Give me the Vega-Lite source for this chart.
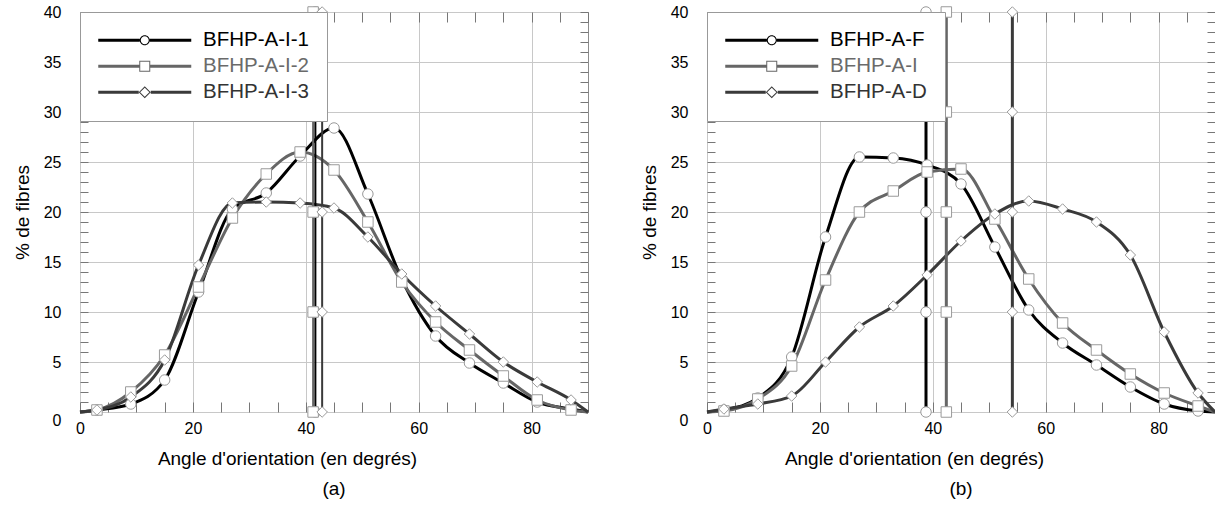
{
  "$schema": "https://vega.github.io/schema/vega-lite/v6.json",
  "padding": {"left": 12, "top": 3, "right": 0, "bottom": 0},
  "spacing": 44,
  "config": {
    "font": "Liberation Sans",
    "view": {"stroke": "#8c8c8c", "strokeWidth": 1},
    "axis": {"labelFont": "Liberation Sans", "titleFont": "Liberation Sans", "labelColor": "#000", "titleColor": "#000", "titleFontWeight": "normal", "labelFontSize": 16, "titleFontSize": 19, "tickColor": "#777", "gridColor": "#c8c8c8", "domain": false, "labelFlush": false, "labelOverlap": false},
    "legend": {"labelFont": "Liberation Sans"},
    "title": {"font": "Liberation Sans", "fontWeight": "normal", "fontSize": 19, "color": "#000"}
  },
  "data": {"values": [
    {"p":"a","s":"BFHP-A-I-1","m":"1","k":"e","x":0,"y":0},
    {"p":"a","s":"BFHP-A-I-1","m":"1","k":"c","x":3,"y":0.2},
    {"p":"a","s":"BFHP-A-I-1","m":"1","k":"c","x":9,"y":0.8},
    {"p":"a","s":"BFHP-A-I-1","m":"1","k":"c","x":15,"y":3.2},
    {"p":"a","s":"BFHP-A-I-1","m":"1","k":"c","x":21,"y":12.0},
    {"p":"a","s":"BFHP-A-I-1","m":"1","k":"c","x":27,"y":20.3},
    {"p":"a","s":"BFHP-A-I-1","m":"1","k":"c","x":33,"y":21.9},
    {"p":"a","s":"BFHP-A-I-1","m":"1","k":"c","x":39,"y":25.6},
    {"p":"a","s":"BFHP-A-I-1","m":"1","k":"c","x":45,"y":28.4},
    {"p":"a","s":"BFHP-A-I-1","m":"1","k":"c","x":51,"y":21.8},
    {"p":"a","s":"BFHP-A-I-1","m":"1","k":"c","x":57,"y":13.3},
    {"p":"a","s":"BFHP-A-I-1","m":"1","k":"c","x":63,"y":7.6},
    {"p":"a","s":"BFHP-A-I-1","m":"1","k":"c","x":69,"y":4.9},
    {"p":"a","s":"BFHP-A-I-1","m":"1","k":"c","x":75,"y":2.9},
    {"p":"a","s":"BFHP-A-I-1","m":"1","k":"c","x":81,"y":1.0},
    {"p":"a","s":"BFHP-A-I-1","m":"1","k":"c","x":87,"y":0.3},
    {"p":"a","s":"BFHP-A-I-1","m":"1","k":"e","x":90,"y":0},
    {"p":"a","s":"BFHP-A-I-1","m":"1","k":"m","x":41.7,"y":0},
    {"p":"a","s":"BFHP-A-I-1","m":"1","k":"m","x":41.7,"y":10},
    {"p":"a","s":"BFHP-A-I-1","m":"1","k":"m","x":41.7,"y":20},
    {"p":"a","s":"BFHP-A-I-1","m":"1","k":"m","x":41.7,"y":30},
    {"p":"a","s":"BFHP-A-I-1","m":"1","k":"m","x":41.7,"y":40},
    {"p":"a","s":"BFHP-A-I-2","m":"2","k":"e","x":0,"y":0},
    {"p":"a","s":"BFHP-A-I-2","m":"2","k":"c","x":3,"y":0.2},
    {"p":"a","s":"BFHP-A-I-2","m":"2","k":"c","x":9,"y":2.0},
    {"p":"a","s":"BFHP-A-I-2","m":"2","k":"c","x":15,"y":5.7},
    {"p":"a","s":"BFHP-A-I-2","m":"2","k":"c","x":21,"y":12.5},
    {"p":"a","s":"BFHP-A-I-2","m":"2","k":"c","x":27,"y":19.4},
    {"p":"a","s":"BFHP-A-I-2","m":"2","k":"c","x":33,"y":23.8},
    {"p":"a","s":"BFHP-A-I-2","m":"2","k":"c","x":39,"y":26.0},
    {"p":"a","s":"BFHP-A-I-2","m":"2","k":"c","x":45,"y":24.2},
    {"p":"a","s":"BFHP-A-I-2","m":"2","k":"c","x":51,"y":19.0},
    {"p":"a","s":"BFHP-A-I-2","m":"2","k":"c","x":57,"y":13.0},
    {"p":"a","s":"BFHP-A-I-2","m":"2","k":"c","x":63,"y":9.0},
    {"p":"a","s":"BFHP-A-I-2","m":"2","k":"c","x":69,"y":6.2},
    {"p":"a","s":"BFHP-A-I-2","m":"2","k":"c","x":75,"y":3.6},
    {"p":"a","s":"BFHP-A-I-2","m":"2","k":"c","x":81,"y":1.2},
    {"p":"a","s":"BFHP-A-I-2","m":"2","k":"c","x":87,"y":0.2},
    {"p":"a","s":"BFHP-A-I-2","m":"2","k":"e","x":90,"y":0},
    {"p":"a","s":"BFHP-A-I-2","m":"2","k":"m","x":41.3,"y":0},
    {"p":"a","s":"BFHP-A-I-2","m":"2","k":"m","x":41.3,"y":10},
    {"p":"a","s":"BFHP-A-I-2","m":"2","k":"m","x":41.3,"y":20},
    {"p":"a","s":"BFHP-A-I-2","m":"2","k":"m","x":41.3,"y":30},
    {"p":"a","s":"BFHP-A-I-2","m":"2","k":"m","x":41.3,"y":40},
    {"p":"a","s":"BFHP-A-I-3","m":"3","k":"e","x":0,"y":0},
    {"p":"a","s":"BFHP-A-I-3","m":"3","k":"c","x":3,"y":0.2},
    {"p":"a","s":"BFHP-A-I-3","m":"3","k":"c","x":9,"y":1.5},
    {"p":"a","s":"BFHP-A-I-3","m":"3","k":"c","x":15,"y":5.2},
    {"p":"a","s":"BFHP-A-I-3","m":"3","k":"c","x":21,"y":14.7},
    {"p":"a","s":"BFHP-A-I-3","m":"3","k":"c","x":27,"y":20.9},
    {"p":"a","s":"BFHP-A-I-3","m":"3","k":"c","x":33,"y":21.0},
    {"p":"a","s":"BFHP-A-I-3","m":"3","k":"c","x":39,"y":20.9},
    {"p":"a","s":"BFHP-A-I-3","m":"3","k":"c","x":45,"y":20.4},
    {"p":"a","s":"BFHP-A-I-3","m":"3","k":"c","x":51,"y":17.5},
    {"p":"a","s":"BFHP-A-I-3","m":"3","k":"c","x":57,"y":13.8},
    {"p":"a","s":"BFHP-A-I-3","m":"3","k":"c","x":63,"y":10.6},
    {"p":"a","s":"BFHP-A-I-3","m":"3","k":"c","x":69,"y":7.8},
    {"p":"a","s":"BFHP-A-I-3","m":"3","k":"c","x":75,"y":5.0},
    {"p":"a","s":"BFHP-A-I-3","m":"3","k":"c","x":81,"y":3.0},
    {"p":"a","s":"BFHP-A-I-3","m":"3","k":"c","x":87,"y":1.2},
    {"p":"a","s":"BFHP-A-I-3","m":"3","k":"e","x":90,"y":0},
    {"p":"a","s":"BFHP-A-I-3","m":"3","k":"m","x":42.9,"y":0},
    {"p":"a","s":"BFHP-A-I-3","m":"3","k":"m","x":42.9,"y":10},
    {"p":"a","s":"BFHP-A-I-3","m":"3","k":"m","x":42.9,"y":20},
    {"p":"a","s":"BFHP-A-I-3","m":"3","k":"m","x":42.9,"y":30},
    {"p":"a","s":"BFHP-A-I-3","m":"3","k":"m","x":42.9,"y":40},
    {"p":"b","s":"BFHP-A-F","m":"1","k":"e","x":0,"y":0},
    {"p":"b","s":"BFHP-A-F","m":"1","k":"c","x":3,"y":0.2},
    {"p":"b","s":"BFHP-A-F","m":"1","k":"c","x":9,"y":1.4},
    {"p":"b","s":"BFHP-A-F","m":"1","k":"c","x":15,"y":5.5},
    {"p":"b","s":"BFHP-A-F","m":"1","k":"c","x":21,"y":17.5},
    {"p":"b","s":"BFHP-A-F","m":"1","k":"c","x":27,"y":25.5},
    {"p":"b","s":"BFHP-A-F","m":"1","k":"c","x":33,"y":25.4},
    {"p":"b","s":"BFHP-A-F","m":"1","k":"c","x":39,"y":24.7},
    {"p":"b","s":"BFHP-A-F","m":"1","k":"c","x":45,"y":22.8},
    {"p":"b","s":"BFHP-A-F","m":"1","k":"c","x":51,"y":16.5},
    {"p":"b","s":"BFHP-A-F","m":"1","k":"c","x":57,"y":10.2},
    {"p":"b","s":"BFHP-A-F","m":"1","k":"c","x":63,"y":6.9},
    {"p":"b","s":"BFHP-A-F","m":"1","k":"c","x":69,"y":4.7},
    {"p":"b","s":"BFHP-A-F","m":"1","k":"c","x":75,"y":2.5},
    {"p":"b","s":"BFHP-A-F","m":"1","k":"c","x":81,"y":0.8},
    {"p":"b","s":"BFHP-A-F","m":"1","k":"c","x":87,"y":0.1},
    {"p":"b","s":"BFHP-A-F","m":"1","k":"e","x":90,"y":0},
    {"p":"b","s":"BFHP-A-F","m":"1","k":"m","x":38.8,"y":0},
    {"p":"b","s":"BFHP-A-F","m":"1","k":"m","x":38.8,"y":10},
    {"p":"b","s":"BFHP-A-F","m":"1","k":"m","x":38.8,"y":20},
    {"p":"b","s":"BFHP-A-F","m":"1","k":"m","x":38.8,"y":30},
    {"p":"b","s":"BFHP-A-F","m":"1","k":"m","x":38.8,"y":40},
    {"p":"b","s":"BFHP-A-I","m":"2","k":"e","x":0,"y":0},
    {"p":"b","s":"BFHP-A-I","m":"2","k":"c","x":3,"y":0.1},
    {"p":"b","s":"BFHP-A-I","m":"2","k":"c","x":9,"y":1.3},
    {"p":"b","s":"BFHP-A-I","m":"2","k":"c","x":15,"y":4.6},
    {"p":"b","s":"BFHP-A-I","m":"2","k":"c","x":21,"y":13.2},
    {"p":"b","s":"BFHP-A-I","m":"2","k":"c","x":27,"y":20.0},
    {"p":"b","s":"BFHP-A-I","m":"2","k":"c","x":33,"y":22.1},
    {"p":"b","s":"BFHP-A-I","m":"2","k":"c","x":39,"y":24.0},
    {"p":"b","s":"BFHP-A-I","m":"2","k":"c","x":45,"y":24.3},
    {"p":"b","s":"BFHP-A-I","m":"2","k":"c","x":51,"y":19.3},
    {"p":"b","s":"BFHP-A-I","m":"2","k":"c","x":57,"y":13.3},
    {"p":"b","s":"BFHP-A-I","m":"2","k":"c","x":63,"y":8.9},
    {"p":"b","s":"BFHP-A-I","m":"2","k":"c","x":69,"y":6.2},
    {"p":"b","s":"BFHP-A-I","m":"2","k":"c","x":75,"y":3.8},
    {"p":"b","s":"BFHP-A-I","m":"2","k":"c","x":81,"y":1.9},
    {"p":"b","s":"BFHP-A-I","m":"2","k":"c","x":87,"y":0.6},
    {"p":"b","s":"BFHP-A-I","m":"2","k":"e","x":90,"y":0},
    {"p":"b","s":"BFHP-A-I","m":"2","k":"m","x":42.4,"y":0},
    {"p":"b","s":"BFHP-A-I","m":"2","k":"m","x":42.4,"y":10},
    {"p":"b","s":"BFHP-A-I","m":"2","k":"m","x":42.4,"y":20},
    {"p":"b","s":"BFHP-A-I","m":"2","k":"m","x":42.4,"y":30},
    {"p":"b","s":"BFHP-A-I","m":"2","k":"m","x":42.4,"y":40},
    {"p":"b","s":"BFHP-A-D","m":"3","k":"e","x":0,"y":0},
    {"p":"b","s":"BFHP-A-D","m":"3","k":"c","x":3,"y":0.3},
    {"p":"b","s":"BFHP-A-D","m":"3","k":"c","x":9,"y":0.8},
    {"p":"b","s":"BFHP-A-D","m":"3","k":"c","x":15,"y":1.6},
    {"p":"b","s":"BFHP-A-D","m":"3","k":"c","x":21,"y":5.0},
    {"p":"b","s":"BFHP-A-D","m":"3","k":"c","x":27,"y":8.5},
    {"p":"b","s":"BFHP-A-D","m":"3","k":"c","x":33,"y":10.6},
    {"p":"b","s":"BFHP-A-D","m":"3","k":"c","x":39,"y":13.7},
    {"p":"b","s":"BFHP-A-D","m":"3","k":"c","x":45,"y":17.1},
    {"p":"b","s":"BFHP-A-D","m":"3","k":"c","x":51,"y":19.8},
    {"p":"b","s":"BFHP-A-D","m":"3","k":"c","x":57,"y":21.1},
    {"p":"b","s":"BFHP-A-D","m":"3","k":"c","x":63,"y":20.3},
    {"p":"b","s":"BFHP-A-D","m":"3","k":"c","x":69,"y":19.0},
    {"p":"b","s":"BFHP-A-D","m":"3","k":"c","x":75,"y":15.7},
    {"p":"b","s":"BFHP-A-D","m":"3","k":"c","x":81,"y":8.0},
    {"p":"b","s":"BFHP-A-D","m":"3","k":"c","x":87,"y":1.9},
    {"p":"b","s":"BFHP-A-D","m":"3","k":"e","x":90,"y":0},
    {"p":"b","s":"BFHP-A-D","m":"3","k":"m","x":54.1,"y":0},
    {"p":"b","s":"BFHP-A-D","m":"3","k":"m","x":54.1,"y":10},
    {"p":"b","s":"BFHP-A-D","m":"3","k":"m","x":54.1,"y":20},
    {"p":"b","s":"BFHP-A-D","m":"3","k":"m","x":54.1,"y":30},
    {"p":"b","s":"BFHP-A-D","m":"3","k":"m","x":54.1,"y":40}
  ]},
  "resolve": {"scale": {"color": "independent", "shape": "independent"}, "legend": {"color": "independent", "shape": "independent"}},
  "hconcat": [
    {
      "width": 508, "height": 400,
      "title": {"text": "(a)", "orient": "bottom", "offset": 12},
      "transform": [{"filter": "datum.p === 'a'"}],
      "resolve": {"axis": {"x": "independent", "y": "independent"}},
      "layer": [
        {
          "transform": [{"filter": "datum.k !== 'm'"}],
          "mark": {"type": "line", "interpolate": "monotone", "strokeWidth": 3, "clip": false},
          "encoding": {
            "x": {"field": "x", "type": "quantitative", "scale": {"domain": [0, 90], "nice": false, "zero": false},
              "axis": {"orient": "bottom", "values": [0, 20, 40, 60, 80], "grid": true, "ticks": false, "tickSize": 0, "labelPadding": 8, "title": "Angle d'orientation (en degrés)", "titleX": 207, "titleY": 46, "titleAlign": "center", "titleBaseline": "middle"}},
            "y": {"field": "y", "type": "quantitative", "scale": {"domain": [0, 40], "nice": false},
              "axis": {"orient": "left", "values": [0, 5, 10, 15, 20, 25, 30, 35, 40], "grid": true, "ticks": false, "tickSize": 0, "labelPadding": 19, "labelBaseline": {"condition": {"test": "datum.value === 0", "value": "top"}, "value": "middle"}, "title": "% de fibres", "titleX": -58, "titleY": 200, "titleAlign": "center", "titleBaseline": "middle"}},
            "color": {"field": "s", "type": "nominal", "scale": {"domain": ["BFHP-A-I-1", "BFHP-A-I-2", "BFHP-A-I-3"], "range": ["#000000", "#666666", "#3a3a3a"]},
              "legend": {"orient": "none", "legendX": 0, "legendY": 0, "title": null, "symbolType": "M-9.3,-0.3H9.3V0.3H-9.3Z", "symbolSize": 100, "symbolStrokeWidth": 0, "symbolOffset": 36.5, "labelFontSize": 20.5, "labelOffset": 48, "labelExpr": "datum.label + '   '", "padding": 18, "rowPadding": 5, "fillColor": "white", "strokeColor": "#999", "zindex": 1,
                "encode": {
                  "labels": {"update": {"fill": {"signal": "datum.value === 'BFHP-A-I-2' ? '#6a6a6a' : datum.value === 'BFHP-A-I-3' ? '#333333' : '#000000'"}}},
                  "symbols": {"update": {
                    "fill": {"signal": "datum.value === 'BFHP-A-I-2' ? '#666666' : datum.value === 'BFHP-A-I-3' ? '#3a3a3a' : '#000000'"},
                    "fillOpacity": {"value": 1},
                    "stroke": {"value": "transparent"},
                    "strokeWidth": {"value": 0},
                    "shape": {"signal": "datum.value === 'BFHP-A-I-1' ? 'M-9.3,-0.3H-1V0.3H-9.3Z M1,-0.3H9.3V0.3H1Z M1,0A1,1,0,1,0,-1,0A1,1,0,1,0,1,0Z M0.8,0A0.8,0.8,0,1,1,-0.8,0A0.8,0.8,0,1,1,0.8,0Z' : datum.value === 'BFHP-A-I-2' ? 'M-9.3,-0.3H-1.1V0.3H-9.3Z M1.1,-0.3H9.3V0.3H1.1Z M-1.1,-1.1H1.1V1.1H-1.1Z M-0.9,-0.9V0.9H0.9V-0.9Z' : 'M-9.3,-0.3H-1.2V0.3H-9.3Z M1.2,-0.3H9.3V0.3H1.2Z M0,-1.2L1.2,0L0,1.2L-1.2,0Z M0,-0.92L-0.92,0L0,0.92L0.92,0Z'"}
                  }}
                }}}
          }
        },
        {
          "transform": [{"filter": "datum.k === 'm'"}],
          "mark": {"type": "line", "strokeWidth": 2, "clip": false},
          "encoding": {
            "x": {"field": "x", "type": "quantitative", "axis": {"orient": "bottom", "values": [0,5,10,15,20,25,30,35,40,45,50,55,60,65,70,75,80,85,90], "labels": false, "grid": false, "tickSize": 10, "offset": -10, "title": null}},
            "y": {"field": "y", "type": "quantitative", "axis": {"orient": "left", "values": [0,1,2,3,4,5,6,7,8,9,10,11,12,13,14,15,16,17,18,19,20,21,22,23,24,25,26,27,28,29,30,31,32,33,34,35,36,37,38,39,40], "labels": false, "grid": false, "tickSize": 8, "offset": -8, "title": null}},
            "color": {"field": "s", "type": "nominal"},
            "order": {"field": "y"}
          }
        },
        {
          "transform": [{"filter": "datum.k !== 'e'"}],
          "mark": {"type": "point", "filled": true, "fill": "white", "stroke": "#9a9a9a", "strokeWidth": 1, "size": 110, "opacity": 1, "clip": false},
          "encoding": {
            "x": {"field": "x", "type": "quantitative", "axis": {"orient": "top", "values": [0,5,10,15,20,25,30,35,40,45,50,55,60,65,70,75,80,85,90], "labels": false, "grid": false, "tickSize": 10, "offset": -10, "title": null}},
            "y": {"field": "y", "type": "quantitative", "axis": {"orient": "right", "values": [0,1,2,3,4,5,6,7,8,9,10,11,12,13,14,15,16,17,18,19,20,21,22,23,24,25,26,27,28,29,30,31,32,33,34,35,36,37,38,39,40], "labels": false, "grid": false, "tickSize": 8, "offset": -8, "title": null}},
            "shape": {"field": "m", "type": "nominal", "scale": {"domain": ["1", "2", "3"], "range": ["circle", "square", "diamond"]}, "legend": null}
          }
        }
      ]
    },
    {
      "width": 508, "height": 400,
      "title": {"text": "(b)", "orient": "bottom", "offset": 12},
      "transform": [{"filter": "datum.p === 'b'"}],
      "resolve": {"axis": {"x": "independent", "y": "independent"}},
      "layer": [
        {
          "transform": [{"filter": "datum.k !== 'm'"}],
          "mark": {"type": "line", "interpolate": "monotone", "strokeWidth": 3, "clip": false},
          "encoding": {
            "x": {"field": "x", "type": "quantitative", "scale": {"domain": [0, 90], "nice": false, "zero": false},
              "axis": {"orient": "bottom", "values": [0, 20, 40, 60, 80], "grid": true, "ticks": false, "tickSize": 0, "labelPadding": 8, "title": "Angle d'orientation (en degrés)", "titleX": 207, "titleY": 46, "titleAlign": "center", "titleBaseline": "middle"}},
            "y": {"field": "y", "type": "quantitative", "scale": {"domain": [0, 40], "nice": false},
              "axis": {"orient": "left", "values": [0, 5, 10, 15, 20, 25, 30, 35, 40], "grid": true, "ticks": false, "tickSize": 0, "labelPadding": 19, "labelBaseline": {"condition": {"test": "datum.value === 0", "value": "top"}, "value": "middle"}, "title": "% de fibres", "titleX": -58, "titleY": 200, "titleAlign": "center", "titleBaseline": "middle"}},
            "color": {"field": "s", "type": "nominal", "scale": {"domain": ["BFHP-A-F", "BFHP-A-I", "BFHP-A-D"], "range": ["#000000", "#666666", "#3a3a3a"]},
              "legend": {"orient": "none", "legendX": 0, "legendY": 0, "title": null, "symbolType": "M-9.3,-0.3H9.3V0.3H-9.3Z", "symbolSize": 100, "symbolStrokeWidth": 0, "symbolOffset": 36.5, "labelFontSize": 20.5, "labelOffset": 48, "labelExpr": "datum.label + '   '", "padding": 18, "rowPadding": 5, "fillColor": "white", "strokeColor": "#999", "zindex": 1,
                "encode": {
                  "labels": {"update": {"fill": {"signal": "datum.value === 'BFHP-A-I' ? '#6a6a6a' : datum.value === 'BFHP-A-D' ? '#333333' : '#000000'"}}},
                  "symbols": {"update": {
                    "fill": {"signal": "datum.value === 'BFHP-A-I' ? '#666666' : datum.value === 'BFHP-A-D' ? '#3a3a3a' : '#000000'"},
                    "fillOpacity": {"value": 1},
                    "stroke": {"value": "transparent"},
                    "strokeWidth": {"value": 0},
                    "shape": {"signal": "datum.value === 'BFHP-A-F' ? 'M-9.3,-0.3H-1V0.3H-9.3Z M1,-0.3H9.3V0.3H1Z M1,0A1,1,0,1,0,-1,0A1,1,0,1,0,1,0Z M0.8,0A0.8,0.8,0,1,1,-0.8,0A0.8,0.8,0,1,1,0.8,0Z' : datum.value === 'BFHP-A-I' ? 'M-9.3,-0.3H-1.1V0.3H-9.3Z M1.1,-0.3H9.3V0.3H1.1Z M-1.1,-1.1H1.1V1.1H-1.1Z M-0.9,-0.9V0.9H0.9V-0.9Z' : 'M-9.3,-0.3H-1.2V0.3H-9.3Z M1.2,-0.3H9.3V0.3H1.2Z M0,-1.2L1.2,0L0,1.2L-1.2,0Z M0,-0.92L-0.92,0L0,0.92L0.92,0Z'"}
                  }}
                }}}
          }
        },
        {
          "transform": [{"filter": "datum.k === 'm'"}],
          "mark": {"type": "line", "strokeWidth": 3, "clip": false},
          "encoding": {
            "x": {"field": "x", "type": "quantitative", "axis": {"orient": "bottom", "values": [0,5,10,15,20,25,30,35,40,45,50,55,60,65,70,75,80,85,90], "labels": false, "grid": false, "tickSize": 10, "offset": -10, "title": null}},
            "y": {"field": "y", "type": "quantitative", "axis": {"orient": "left", "values": [0,1,2,3,4,5,6,7,8,9,10,11,12,13,14,15,16,17,18,19,20,21,22,23,24,25,26,27,28,29,30,31,32,33,34,35,36,37,38,39,40], "labels": false, "grid": false, "tickSize": 8, "offset": -8, "title": null}},
            "color": {"field": "s", "type": "nominal"},
            "order": {"field": "y"}
          }
        },
        {
          "transform": [{"filter": "datum.k !== 'e'"}],
          "mark": {"type": "point", "filled": true, "fill": "white", "stroke": "#9a9a9a", "strokeWidth": 1, "size": 110, "opacity": 1, "clip": false},
          "encoding": {
            "x": {"field": "x", "type": "quantitative", "axis": {"orient": "top", "values": [0,5,10,15,20,25,30,35,40,45,50,55,60,65,70,75,80,85,90], "labels": false, "grid": false, "tickSize": 10, "offset": -10, "title": null}},
            "y": {"field": "y", "type": "quantitative", "axis": {"orient": "right", "values": [0,1,2,3,4,5,6,7,8,9,10,11,12,13,14,15,16,17,18,19,20,21,22,23,24,25,26,27,28,29,30,31,32,33,34,35,36,37,38,39,40], "labels": false, "grid": false, "tickSize": 8, "offset": -8, "title": null}},
            "shape": {"field": "m", "type": "nominal", "scale": {"domain": ["1", "2", "3"], "range": ["circle", "square", "diamond"]}, "legend": null}
          }
        }
      ]
    }
  ]
}
